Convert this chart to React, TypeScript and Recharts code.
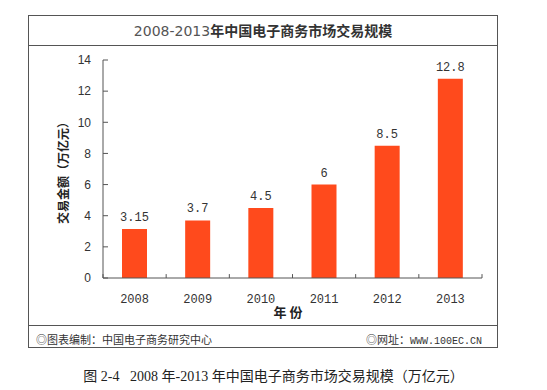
import { Bar, BarChart, LabelList, ReferenceLine, XAxis, YAxis } from "recharts";

const years = ["2008", "2009", "2010", "2011", "2012", "2013"];
const amounts = [3.15, 3.7, 4.5, 6, 8.5, 12.8];
const yTicks = [0, 2, 4, 6, 8, 10, 12, 14];
const bounds = [0, 1, 2, 3, 4, 5, 6];

const data = years.map((year, i) => ({ year, amount: amounts[i], pos: i + 0.5 }));

const line = "#555";
const mono = "'Liberation Mono', 'DejaVu Sans Mono', monospace";
const cjk = "'Noto Sans CJK SC', sans-serif";

export default function App() {
  return (
    <div style={{ position: "absolute", left: 0, top: 0, width: 547, height: 390, background: "#fff", fontFamily: cjk }}>
      {/* frame */}
      <div style={{ position: "absolute", left: 28, top: 15, width: 470, height: 333, border: `1px solid ${line}`, boxSizing: "border-box" }} />
      <div style={{ position: "absolute", left: 28, top: 45, width: 470, height: 1, background: line }} />
      <div style={{ position: "absolute", left: 28, top: 325, width: 470, height: 1, background: line }} />
      <div style={{ position: "absolute", left: 28, top: 20, width: 470, textAlign: "center", fontSize: 14, color: "#333" }}>
        <span style={{ fontFamily: "'DejaVu Sans', sans-serif", fontWeight: 400, color: "#555" }}>2008-2013</span>
        <span style={{ fontWeight: 700 }}>年中国电子商务市场交易规模</span>
      </div>

      <BarChart
        width={547}
        height={390}
        data={data}
        margin={{ top: 60, right: 65, bottom: 82, left: 63 }}
        style={{ position: "absolute", left: 0, top: 0 }}
      >
        <XAxis
          dataKey="year"
          height={30}
          axisLine={{ stroke: line }}
          tickLine={false}
          tick={{ fill: "#333", fontSize: 12, fontFamily: mono }}
          tickMargin={10}
        />
        <XAxis xAxisId="b" type="number" dataKey="pos" domain={[0, 6]} hide />
        <YAxis
          domain={[0, 14]}
          ticks={yTicks}
          width={40}
          axisLine={{ stroke: line }}
          tickLine={{ stroke: line }}
          tickSize={-5}
          tickMargin={17}
          tick={{ fill: "#333", fontSize: 12, fontFamily: "'Liberation Sans Narrow', 'Liberation Sans', sans-serif" }}
        />
        <Bar dataKey="amount" fill="#ff4a1c" barSize={25} isAnimationActive={false}>
          <LabelList dataKey="amount" position="top" offset={8} style={{ fill: "#333", fontSize: 12, fontFamily: mono }} />
        </Bar>
        {/* small upward ticks between years */}
        {bounds.map((b) => (
          <ReferenceLine
            key={b}
            xAxisId="b"
            segment={[{ x: b, y: 0 }, { x: b, y: 0.25 }]}
            stroke={line}
            ifOverflow="visible"
          />
        ))}
      </BarChart>

      <div
        style={{
          position: "absolute",
          left: 62,
          top: 170,
          transform: "translate(-50%, -50%) rotate(-90deg)",
          whiteSpace: "nowrap",
          fontSize: 12,
          fontWeight: 700,
          color: "#222",
        }}
      >
        交易金额（万亿元）
      </div>
      <div style={{ position: "absolute", left: 258, top: 302, width: 60, textAlign: "center", fontSize: 13, fontWeight: 700, color: "#222" }}>
        年 份
      </div>

      <div style={{ position: "absolute", left: 36, top: 331, fontSize: 11, color: "#333" }}>◎图表编制：中国电子商务研究中心</div>
      <div style={{ position: "absolute", left: 366, top: 331, fontSize: 11, color: "#333" }}>
        ◎网址：<span style={{ fontFamily: mono, fontSize: 10 }}>WWW.100EC.CN</span>
      </div>

      <div style={{ position: "absolute", left: 0, top: 365, width: 547, textAlign: "center", fontSize: 14, color: "#222", fontFamily: "'Liberation Serif', 'Noto Sans CJK SC', serif" }}>
        图 2-4&nbsp;&nbsp;&nbsp;2008 年-2013 年中国电子商务市场交易规模（万亿元）
      </div>
    </div>
  );
}
